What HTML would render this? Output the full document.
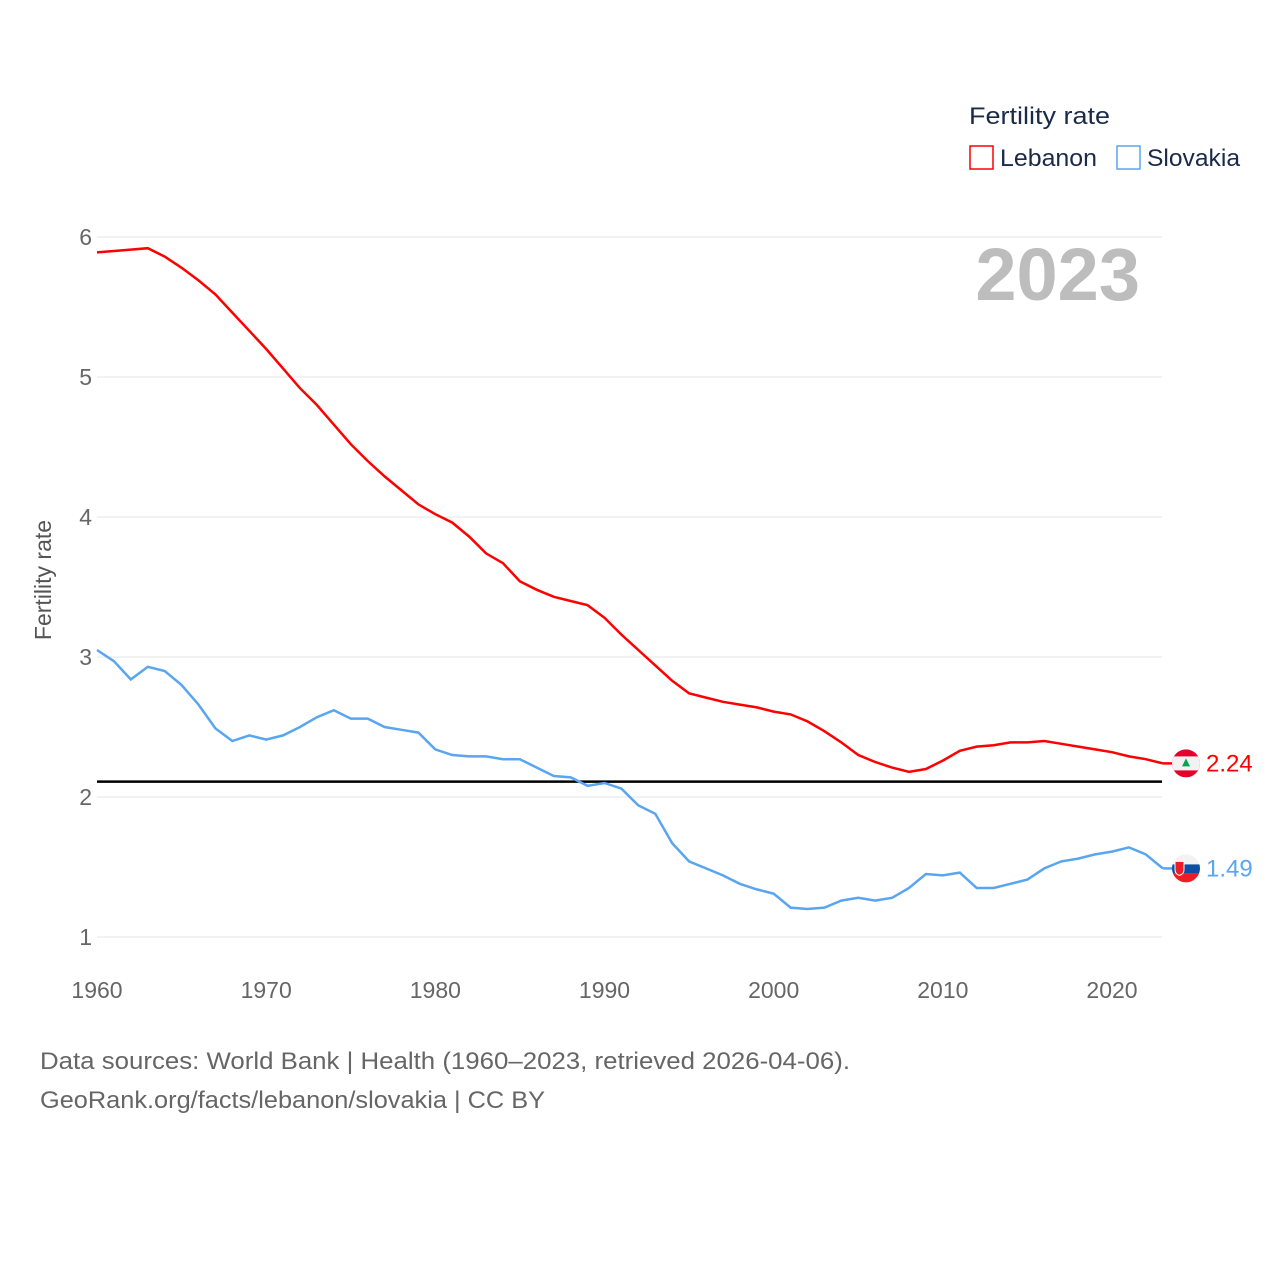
<!DOCTYPE html>
<html><head><meta charset="utf-8"><style>
body{margin:0;background:#fff;}
svg text{font-family:"Liberation Sans",sans-serif;}
</style></head><body>
<svg width="1280" height="1280" xmlns="http://www.w3.org/2000/svg">
<g id="grid"></g>
<g id="yt"></g>
<g id="xt"></g>
<text x="51" y="580" transform="rotate(-90 51 580)" text-anchor="middle" font-size="23" fill="#555">Fertility rate</text>
<text x="1140" y="300" text-anchor="end" font-size="74" font-weight="bold" fill="#bdbdbd">2023</text>
<text x="969" y="124" font-size="24" fill="#1a2a4a" textLength="141" lengthAdjust="spacingAndGlyphs">Fertility rate</text>
<g><rect x="970" y="146" width="23" height="23" fill="none" stroke="#ff0000" stroke-width="1.5"/><text x="1000" y="166" font-size="24" fill="#1a2a4a" textLength="97" lengthAdjust="spacingAndGlyphs">Lebanon</text></g>
<g><rect x="1117" y="146" width="23" height="23" fill="none" stroke="#5aa5f0" stroke-width="1.5"/><text x="1147" y="166" font-size="24" fill="#1a2a4a" textLength="93" lengthAdjust="spacingAndGlyphs">Slovakia</text></g>
<line id="ref" x1="97" x2="1162" stroke="#000" stroke-width="2.5"/>
<path id="lb" fill="none" stroke="#ff0000" stroke-width="2.5"/>
<path id="sk" fill="none" stroke="#5aa5f0" stroke-width="2.5"/>
<g id="ends"></g>
<text x="40" y="1069" font-size="24" fill="#666" textLength="810" lengthAdjust="spacingAndGlyphs">Data sources: World Bank | Health (1960–2023, retrieved 2026-04-06).</text>
<text x="40" y="1108" font-size="24" fill="#666" textLength="505" lengthAdjust="spacingAndGlyphs">GeoRank.org/facts/lebanon/slovakia | CC BY</text>
</svg>
<script>
const years=[];for(let y=1960;y<=2023;y++)years.push(y);
const lebanon=[5.89,5.90,5.91,5.92,5.86,5.78,5.69,5.59,5.46,5.33,5.2,5.06,4.92,4.8,4.66,4.52,4.4,4.29,4.19,4.09,4.02,3.96,3.86,3.74,3.67,3.54,3.48,3.43,3.40,3.37,3.28,3.16,3.05,2.94,2.83,2.74,2.71,2.68,2.66,2.64,2.61,2.59,2.54,2.47,2.39,2.30,2.25,2.21,2.18,2.20,2.26,2.33,2.36,2.37,2.39,2.39,2.40,2.38,2.36,2.34,2.32,2.29,2.27,2.24];
const slovakia=[3.05,2.97,2.84,2.93,2.90,2.80,2.66,2.49,2.40,2.44,2.41,2.44,2.50,2.57,2.62,2.56,2.56,2.50,2.48,2.46,2.34,2.30,2.29,2.29,2.27,2.27,2.21,2.15,2.14,2.08,2.10,2.06,1.94,1.88,1.67,1.54,1.49,1.44,1.38,1.34,1.31,1.21,1.20,1.21,1.26,1.28,1.26,1.28,1.35,1.45,1.44,1.46,1.35,1.35,1.38,1.41,1.49,1.54,1.56,1.59,1.61,1.64,1.59,1.49];
const yTicks=[1,2,3,4,5,6];
const xTicks=[1960,1970,1980,1990,2000,2010,2020];
const refValue=2.11;
const X=y=>97+(y-1960)*(1015/60);
const Y=v=>937-(v-1)*140;
const NS="http://www.w3.org/2000/svg";
const mk=(t,a,p)=>{const e=document.createElementNS(NS,t);for(const k in a)e.setAttribute(k,a[k]);p.appendChild(e);return e;};
const grid=document.getElementById('grid'),yt=document.getElementById('yt'),xt=document.getElementById('xt');
yTicks.forEach(v=>{
 const l=mk('line',{x1:97,x2:1162,y1:Y(v),y2:Y(v),stroke:'#e6e6e6','stroke-width':1},grid);
 
 
 const t=mk('text',{x:92,y:Y(v)+8,'text-anchor':'end','font-size':23,fill:'#666'},yt);t.textContent=v;
 
 
});
xTicks.forEach(v=>{
 const t=mk('text',{x:X(v),y:998,'text-anchor':'middle','font-size':23,fill:'#666'},xt);t.textContent=v;
 
 
});
const ref=document.getElementById('ref');ref.setAttribute('y1',Y(refValue));ref.setAttribute('y2',Y(refValue));
const path=a=>a.map((v,i)=>(i?'L':'M')+X(years[i]).toFixed(1)+' '+Y(v).toFixed(1)).join(' ');
document.getElementById('lb').setAttribute('d',path(lebanon));
document.getElementById('sk').setAttribute('d',path(slovakia));
const ends=document.getElementById('ends');
function flag(v,kind,color){
 const cx=1186,cy=Y(v);
 const g=mk('g',{},ends);
 
 
 mk('line',{x1:X(2023),x2:cx-14,y1:cy,y2:cy,stroke:color,'stroke-width':2.5},g);
 const id='c'+kind;const cp=mk('clipPath',{id:id},g);mk('circle',{cx:cx,cy:cy,r:14},cp);
 const f=mk('g',{'clip-path':'url(#'+id+')'},g);
 if(kind==='lebanon'){
  mk('rect',{x:cx-14,y:cy-14,width:28,height:28,fill:'#e4002b'},f);
  mk('rect',{x:cx-14,y:cy-7,width:28,height:14,fill:'#f2f2f2'},f);
  mk('polygon',{points:`${cx},${cy-5} ${cx-4},${cy+3} ${cx+4},${cy+3}`,fill:'#00a651'},f);
 }else{
  mk('rect',{x:cx-14,y:cy-14,width:28,height:10,fill:'#f2f2f2'},f);
  mk('rect',{x:cx-14,y:cy-4,width:28,height:9,fill:'#0b4ea2'},f);
  mk('rect',{x:cx-14,y:cy+5,width:28,height:10,fill:'#ee1c25'},f);
  mk('path',{d:`M${cx-11} ${cy-7} h9 v8 q0 5 -4.5 6 q-4.5 -1 -4.5 -6 z`,fill:'#ee1c25',stroke:'#fff','stroke-width':1},f);
 }
 const t=mk('text',{x:1206,y:cy+8,'font-size':24,fill:color},g);t.textContent=v.toFixed(2);
 
 
}
flag(lebanon[lebanon.length-1],'lebanon','#ff0000');
flag(slovakia[slovakia.length-1],'slovakia','#5aa5f0');
</script>
</body></html>
